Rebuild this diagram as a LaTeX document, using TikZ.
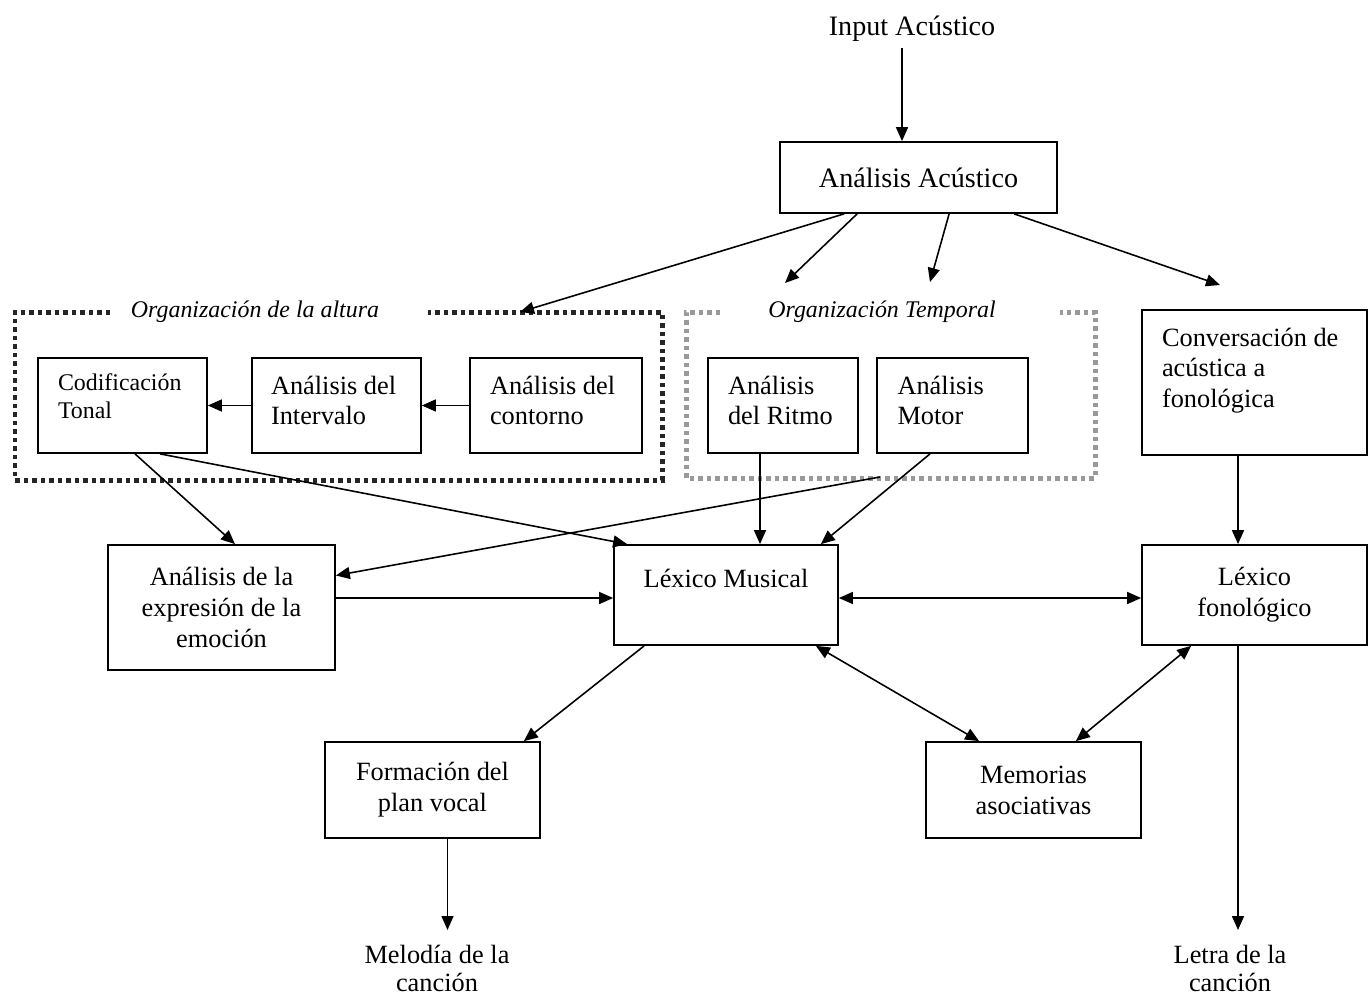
\documentclass[tikz,border=0pt]{standalone}
\usepackage{fontspec}
\setmainfont{Liberation Serif}
\usetikzlibrary{arrows.meta}

\begin{document}
\begin{tikzpicture}[x=0.02cm, y=-0.02cm]

	\useasboundingbox (0,0) rectangle (1370,997);

	% Define style for boxes
	\tikzstyle{block} = [rectangle, draw, line width=1pt, align=center,
						inner ysep=0.2cm, font=\fontsize{15}{17.6}\selectfont]
	\tikzstyle{inner block} = [block, align=flush left, inner xsep=0.4cm,
						text height=0.52cm, text depth=0.98cm]
	\tikzstyle{caption} = [align=center, font=\fontsize{15}{17.6}\selectfont]
	\tikzstyle{groupframe} = [line width=0.1cm, dash pattern=on 0.09cm off 0.08cm]
	\tikzstyle{group label} = [font=\fontsize{13.6}{16}\selectfont\itshape]

	% Define style for arrows
	\tikzstyle{line} = [draw, line width=0.9pt, -{Triangle[length=2.8mm, width=2.4mm]}]
	\tikzstyle{twoway} = [line, {Triangle[length=2.8mm, width=2.4mm]}-{Triangle[length=2.8mm, width=2.4mm]}]

	% Place nodes
	\node [caption, font=\fontsize{16}{19}\selectfont] (input) at (912,29) {Input Acústico};
	\node [block, font=\fontsize{16}{19}\selectfont, minimum width=5.54cm, minimum height=1.42cm] (acus) at (918.5,177.5) {Análisis Acústico};

	\node [inner block, text width=2.58cm, font=\fontsize{13.6}{16}\selectfont, text height=0.44cm, text depth=1.06cm] (codif) at (122.5,405.5) {Codificación\\Tonal};
	\node [inner block, inner xsep=0.38cm, text width=2.62cm] (interv) at (336.5,405.5) {Análisis del\\Intervalo};
	\node [inner block, text width=2.64cm] (contorno) at (556,405.5) {Análisis del\\contorno};
	\node [inner block, text width=2.2cm] (ritmo) at (783,405.5) {Análisis\\del Ritmo};
	\node [inner block, inner xsep=0.41cm, text width=2.2cm] (motor) at (952.5,405.5) {Análisis\\Motor};
	\node [inner block, text width=3.7cm, text depth=1.98cm] (conv) at (1254.5,382.5) {Conversación de\\acústica a\\fonológica};

	\node [block, minimum width=4.54cm, minimum height=2.5cm] (emocion) at (221.5,607.5) {Análisis de la\\expresión de la\\emoción};
	\node [block, minimum width=4.48cm, text height=0.64cm, text depth=0.96cm] (lexmus) at (726,595) {Léxico Musical};
	\node [block, minimum width=4.5cm, minimum height=2cm] (lexfon) at (1254.5,595) {Léxico\\fonológico};
	\node [block, minimum width=4.3cm, minimum height=1.92cm] (formacion) at (432.5,790) {Formación del\\plan vocal};
	\node [block, minimum width=4.3cm, minimum height=1.92cm] (memorias) at (1033.5,790) {Memorias\\asociativas};

	\node [caption, align=flush center, font=\fontsize{15}{15.9}\selectfont, text width=3.6cm, anchor=north, inner ysep=0.3cm, text height=0.37cm] (melodia) at (437,930) {Melodía de la\\canción};
	\node [caption, align=flush center, font=\fontsize{15}{15.9}\selectfont, text width=3.6cm, anchor=north, inner ysep=0.3cm, text height=0.37cm] (letra) at (1230,930) {Letra de la\\canción};

	% Groups
	\node [group label] (altura) at (255,312) {Organización de la altura};
	\node [group label] (temporal) at (882,312) {Organización Temporal};
	\draw [groupframe, black!85] (110,312) -- (15,312) -- (15,480) -- (662,480) -- (662,312) -- (428,312);
	\draw [groupframe, black!40] (720,312) -- (686,312) -- (686,478) -- (1095,478) -- (1095,312) -- (1060,312);

	% Free ends
	\coordinate (alturaIn) at (520,312);
	\coordinate (temporalIn1) at (785,283);
	\coordinate (temporalIn2) at (930,282);
	\coordinate (convIn) at (1220,285);
	\coordinate (temporalOut) at (880,477);

	% Draw edges
	\path [line] ([xshift=-0.2cm]input.south) -- ([xshift=-0.2cm]input.south |- acus.north);
	\path [line] ([xshift=1.3cm]acus.south west) -- (alturaIn);
	\path [line] ([xshift=1.56cm]acus.south west) -- (temporalIn1);
	\path [line] ([xshift=3.4cm]acus.south west) -- (temporalIn2);
	\path [line] ([xshift=4.7cm]acus.south west) -- (convIn);
	\path [line] (interv.west) -- (codif.east);
	\path [line] (contorno.west) -- (interv.east);
	\path [line] ([xshift=0.25cm]codif.south) -- ([xshift=0.27cm]emocion.north);
	\path [line] ([xshift=0.75cm]codif.south) -- ([xshift=0.28cm]lexmus.north west);
	\path [line] (temporalOut) -- ([yshift=0.64cm]emocion.east);
	\path [line] ([xshift=-0.46cm]ritmo.south) -- ([xshift=-0.46cm]ritmo.south |- lexmus.north);
	\path [line] ([xshift=-0.45cm]motor.south) -- ([xshift=-0.36cm]lexmus.north east);
	\path [line] ([yshift=0.19cm]emocion.east) -- ([yshift=0.19cm]emocion.east -| lexmus.west);
	\path [twoway] ([yshift=-0.06cm]lexmus.east) -- ([yshift=-0.06cm]lexmus.east -| lexfon.west);
	\path [line] ([xshift=-0.33cm]conv.south) -- ([xshift=-0.33cm]lexfon.north);
	\path [line] ([xshift=0.62cm]lexmus.south west) -- ([xshift=-0.34cm]formacion.north east);
	\path [twoway] ([xshift=-0.46cm]lexmus.south east) -- ([xshift=1.08cm]memorias.north west);
	\path [twoway] ([xshift=1.0cm]lexfon.south west) -- ([xshift=-1.32cm]memorias.north east);
	\path [line] ([xshift=0.3cm]formacion.south) -- ([xshift=0.3cm]formacion.south |- melodia.north);
	\path [line] ([xshift=-0.33cm]lexfon.south) -- ([xshift=-0.33cm]lexfon.south |- letra.north);

\end{tikzpicture}
\end{document}
